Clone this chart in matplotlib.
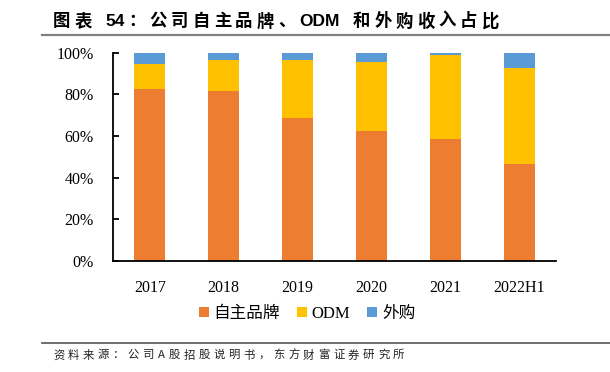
import matplotlib
matplotlib.use("Agg")
import matplotlib.pyplot as plt
from matplotlib.patches import Patch
from matplotlib.lines import Line2D
import numpy as np

# ---- data ----
categories = ["2017", "2018", "2019", "2020", "2021", "2022H1"]
own_brand = [82.5, 81.4, 68.6, 62.5, 58.5, 46.5]
odm = [12.1, 15.2, 27.7, 32.8, 40.2, 46.0]
purchased = [5.4, 3.4, 3.7, 4.7, 1.3, 7.5]
series_names = ["自主品牌", "ODM", "外购"]
colors = ["#ED7D31", "#FFC000", "#5B9BD5"]
yticks = [0, 20, 40, 60, 80, 100]
title_tokens = ["图", "表", " ", "54", "：", "公", "司", "自", "主", "品", "牌", "、",
                "ODM", " ", "和", "外", "购", "收", "入", "占", "比"]
source_text = "资料来源：公司A股招股说明书，东方财富证券研究所"

plt.rcParams["font.family"] = ["Liberation Serif", "Noto Sans CJK SC"]

W, H = 610, 372
fig = plt.figure(figsize=(W / 100, H / 100), dpi=100)

ax_l, ax_r, ax_b, ax_t = 113, 556, 261, 52.5
ax = fig.add_axes([ax_l / W, 1 - ax_b / H, (ax_r - ax_l) / W, (ax_b - ax_t) / H])

x = np.arange(len(categories))
bw = 0.42
ax.bar(x, own_brand, bw, color=colors[0], zorder=2)
ax.bar(x, odm, bw, bottom=own_brand, color=colors[1], zorder=2)
ax.bar(x, purchased, bw, bottom=np.array(own_brand) + np.array(odm), color=colors[2], zorder=2)

ax.set_xlim(-0.5, len(categories) - 0.5)
ax.set_ylim(0, 100)
ax.set_yticks(yticks)
ax.set_yticklabels([f"{v}%" for v in yticks])
ax.set_xticks(x)
ax.set_xticklabels(categories)
for s in ["top", "right"]:
    ax.spines[s].set_visible(False)
for s in ["left", "bottom"]:
    ax.spines[s].set_linewidth(1.3)
    ax.spines[s].set_color("black")
ax.tick_params(axis="y", direction="in", length=4, width=1.3, pad=14, labelsize=11.5)
ax.tick_params(axis="x", length=0, pad=14, labelsize=11.5)

# legend
handles = [Patch(facecolor=c, edgecolor="none") for c in colors]
leg = fig.legend(handles, series_names, loc="center", bbox_to_anchor=(307 / W, 1 - 314 / H),
                 ncol=3, frameon=False, handlelength=0.6, handleheight=0.6,
                 handletextpad=0.3, columnspacing=1.0,
                 prop={"family": ["Liberation Serif", "Noto Sans CJK SC"], "size": 12})

# title with letter spacing
fig.canvas.draw()
r = fig.canvas.get_renderer()

def spaced(tokens, x0, y0, size, spacing, family, weight="normal", color="black"):
    xx = x0
    for tk in tokens:
        if tk == " ":
            xx += size * 100 / 72 * 0.3 + spacing
            continue
        t = fig.text(xx / W, 1 - y0 / H, tk, fontsize=size, fontfamily=family,
                     fontweight=weight, color=color, va="center", ha="left")
        w = t.get_window_extent(r).width
        xx += w + spacing
    return xx

spaced(title_tokens, 53, 21, 12.5, 4.0, ["Liberation Sans", "Noto Sans CJK SC"], weight="bold")
spaced(list(source_text), 53, 355, 8.2, 3.6, ["Noto Sans CJK SC"], color="#222222")

# header/footer rules
fig.add_artist(Line2D([42 / W, 1], [1 - 35 / H] * 2, color="#808080", lw=1.6))
fig.add_artist(Line2D([42 / W, 1], [1 - 343 / H] * 2, color="#555555", lw=1.2))

fig.savefig("out.png", dpi=100)
